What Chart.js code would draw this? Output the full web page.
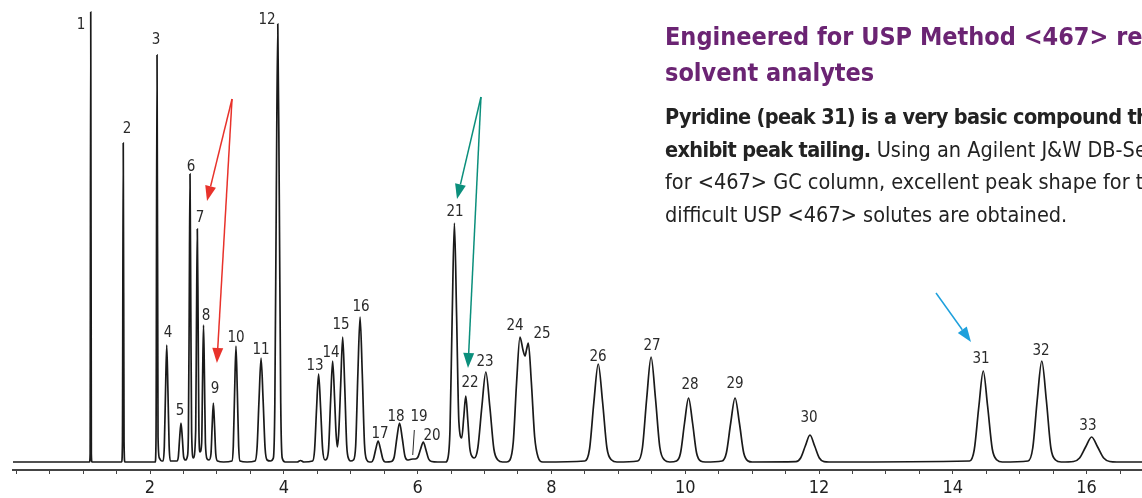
<!DOCTYPE html>
<html>
<head>
<meta charset="utf-8">
<script src="https://cdn.jsdelivr.net/npm/chart.js@4.4.0/dist/chart.umd.min.js"></script>
<style>
  html, body { margin: 0; padding: 0; background: #fff; overflow: hidden; }
  #wrap { position: relative; width: 1142px; height: 498px; overflow: hidden; }
  #note { position: absolute; left: 665px; top: 19px; white-space: nowrap;
          font-family: 'Liberation Sans Narrow', 'DejaVu Sans Condensed', sans-serif; }
  .title { color: #6b2473; font-weight: bold; font-size: 25px; line-height: 36px; }
  .body { color: #222; font-size: 21.5px; line-height: 32.5px; margin-top: 10px; }
  .body b { letter-spacing: -0.65px; }
</style>
</head>
<body>
<div id="wrap">
  <canvas id="chromChart" width="1142" height="498"></canvas>
  <div id="note">
    <div class="title">Engineered for USP Method &lt;467&gt; residual<br>solvent analytes</div>
    <div class="body"><b>Pyridine (peak 31) is a very basic compound that can</b><br><b>exhibit peak tailing.</b> Using an Agilent J&amp;W DB-Select 624UI<br>for &lt;467&gt; GC column, excellent peak shape for the most<br>difficult USP &lt;467&gt; solutes are obtained.</div>
  </div>
</div>
<script>
// retention time (min) vs detector signal
var trace = [
  [-0.06,0],[1.0,0],
  [1.096,0],[1.105,8],[1.114,450],[1.123,8],[1.132,0],[1.5,0],
  [1.576,0],[1.588,20],[1.600,319],[1.612,20],[1.624,0],[2.0,0],
  [2.078,0],[2.090,25],[2.105,407],[2.120,25],[2.140,4],[2.175,1],
  [2.196,1],[2.214,16],[2.232,71],[2.250,117],[2.268,71],[2.286,16],[2.304,1],
  [2.403,1],[2.423,5],[2.443,24],[2.463,39],[2.483,24],[2.503,5],[2.530,2],
  [2.560,6],[2.574,30],[2.586,150],[2.598,288],[2.610,150],[2.622,30],[2.647,4],
  [2.683,32],[2.695,142],[2.707,233],[2.719,142],[2.731,32],[2.747,10],
  [2.772,19],[2.786,84],[2.800,137],[2.814,84],[2.828,19],[2.855,3],[2.882,2],
  [2.911,8],[2.929,36],[2.947,59],[2.965,36],[2.983,8],[3.010,1],[3.10,0],
  [3.225,1],[3.245,16],[3.265,71],[3.285,116],[3.305,71],[3.325,16],[3.345,1],[3.45,0],
  [3.57,1],[3.60,14],[3.63,63],[3.66,104],[3.69,63],[3.72,14],[3.75,2],[3.80,1],
  [3.844,4],[3.866,59],[3.888,267],[3.910,438],[3.932,267],[3.954,59],[3.976,4],[4.02,0],
  [4.20,0],[4.25,1.5],[4.30,0],
  [4.43,1],[4.46,12],[4.49,54],[4.52,88],[4.55,54],[4.58,13],[4.616,2],
  [4.64,3],[4.67,14],[4.70,62],[4.73,101],[4.76,62],[4.78,30],[4.80,15],
  [4.82,28],[4.85,77],[4.88,125],[4.91,77],[4.94,17],[4.97,3],[5.0,1],
  [5.04,2],[5.074,16],[5.107,88],[5.14,145],[5.173,88],[5.206,18],[5.24,2],[5.28,0],
  [5.31,0],[5.34,3],[5.375,13],[5.41,21],[5.445,13],[5.48,3],[5.52,0],
  [5.61,0.5],[5.65,5],[5.69,24],[5.73,39],[5.77,24],[5.81,6],[5.85,2],
  [5.89,2.5],[5.93,3],
  [5.965,3],[6.005,5],[6.045,13],[6.085,20],[6.125,12],[6.165,3],[6.21,0.5],[6.30,0],
  [6.42,0],[6.45,3],[6.484,32],[6.517,146],[6.55,239],[6.583,146],[6.617,40],[6.66,24],
  [6.69,45],[6.72,66],[6.75,42],[6.78,14],[6.82,5],[6.848,4],
  [6.90,14],[6.96,55],[7.02,90],[7.08,55],[7.14,13],[7.20,2],[7.27,0],
  [7.33,0],[7.38,2],[7.43,20],[7.48,80],[7.53,125],[7.575,112],[7.605,106],[7.63,113],[7.655,119],[7.70,80],[7.75,25],[7.80,5],[7.87,0],
  [8.50,1],[8.57,13],[8.635,60],[8.70,98],[8.765,60],[8.83,14],[8.90,2],[8.98,0],
  [9.29,1],[9.36,14],[9.425,64],[9.49,105],[9.555,64],[9.62,15],[9.69,2],[9.77,0],
  [9.87,1],[9.93,9],[9.99,39],[10.05,64],[10.11,39],[10.17,9],[10.23,1],[10.30,0],
  [10.55,1],[10.615,9],[10.68,39],[10.745,64],[10.81,39],[10.875,9],[10.94,1],[11.0,0],
  [11.655,0.3],[11.725,4],[11.795,16],[11.865,27],[11.935,16],[12.005,4],[12.075,0.3],[12.15,0],
  [14.25,1],[14.32,12],[14.39,56],[14.455,91],[14.52,56],[14.59,13],[14.66,2],[14.74,0],
  [15.125,1],[15.195,14],[15.262,62],[15.33,101],[15.398,62],[15.466,14],[15.535,2],[15.62,0],
  [15.805,0.5],[15.895,4],[15.985,15],[16.075,25],[16.165,15],[16.255,4],[16.345,0.5],[16.45,0],
  [16.9,0]
];

// peak numbers and where their labels sit (time, signal)
var peakNumbers = ['1','2','3','4','5','6','7','8','9','10','11','12','13','14','15','16','17',
                   '18','19','20','21','22','23','24','25','26','27','28','29','30','31','32','33'];
var labelTimes = [0.969,1.656,2.090,2.269,2.448,2.613,2.747,2.837,2.972,3.286,3.659,3.749,4.466,
                  4.706,4.855,5.154,5.438,5.677,6.021,6.215,6.559,6.783,7.007,7.456,7.860,8.697,
                  9.504,10.072,10.745,11.850,14.421,15.318,16.020];
var labelSignals = [437,333,422,129,51,295,244,146,73,124,112,442,96,109,137,155,28,45,45,26,
                    250,79,100,136,128,105,116,77,78,44,103,111,36];

// arrows: [fromTime, fromSignal, toTime, toSignal, colour]
var arrows = [
  [3.226, 363, 2.852, 261, '#e8322b'],
  [3.226, 363, 3.000, 99, '#e8322b'],
  [6.947, 365, 6.589, 263, '#0b8f7c'],
  [6.947, 365, 6.753, 94, '#0b8f7c'],
  [13.749, 169, 14.272, 120, '#1ea0dc']
];
var peak19Marker = [5.951, 32, 5.927, 7];

var labelFont = '15px "Liberation Sans Narrow", "DejaVu Sans Condensed", sans-serif';

var annotate = {
  id: 'annotate',
  afterDatasetsDraw: function (chart) {
    var ctx = chart.ctx, x = chart.scales.x, y = chart.scales.y;
    ctx.save();
    ctx.font = labelFont;
    ctx.fillStyle = '#2a2a2a';
    ctx.textAlign = 'center';
    ctx.textBaseline = 'middle';
    for (var i = 0; i < peakNumbers.length; i++) {
      ctx.fillText(peakNumbers[i], x.getPixelForValue(labelTimes[i]), y.getPixelForValue(labelSignals[i]));
    }
    // little pointer for peak 19
    ctx.strokeStyle = '#2a2a2a';
    ctx.lineWidth = 1;
    ctx.beginPath();
    ctx.moveTo(x.getPixelForValue(peak19Marker[0]), y.getPixelForValue(peak19Marker[1]));
    ctx.lineTo(x.getPixelForValue(peak19Marker[2]), y.getPixelForValue(peak19Marker[3]));
    ctx.stroke();

    arrows.forEach(function (a) {
      var x0 = x.getPixelForValue(a[0]), y0 = y.getPixelForValue(a[1]);
      var x1 = x.getPixelForValue(a[2]), y1 = y.getPixelForValue(a[3]);
      var ang = Math.atan2(y1 - y0, x1 - x0);
      var len = 15, half = 5.5;
      var bx = x1 - len * Math.cos(ang), by = y1 - len * Math.sin(ang);
      ctx.strokeStyle = a[4];
      ctx.fillStyle = a[4];
      ctx.lineWidth = 1.5;
      ctx.beginPath();
      ctx.moveTo(x0, y0);
      ctx.lineTo(bx, by);
      ctx.stroke();
      ctx.beginPath();
      ctx.moveTo(x1, y1);
      ctx.lineTo(bx + half * Math.sin(ang), by - half * Math.cos(ang));
      ctx.lineTo(bx - half * Math.sin(ang), by + half * Math.cos(ang));
      ctx.closePath();
      ctx.fill();
    });
    ctx.restore();
  }
};

var ctx = document.getElementById('chromChart').getContext('2d');
var chromChart = new Chart(ctx, {
  type: 'line',
  data: {
    datasets: [{
      data: trace.map(function (p) { return { x: p[0], y: p[1] }; }),
      borderColor: '#1a1a1a',
      borderWidth: 1.7,
      pointRadius: 0,
      fill: false,
      cubicInterpolationMode: 'monotone'
    }]
  },
  options: {
    responsive: false,
    animation: false,
    devicePixelRatio: 1,
    layout: { padding: { left: 13, right: 0, top: 0, bottom: 0 } },
    plugins: { legend: { display: false }, tooltip: { enabled: false } },
    scales: {
      x: {
        type: 'linear',
        min: -0.048,
        max: 16.828,
        afterFit: function (scale) { scale.height = 28; },
        border: { display: true, color: '#444', width: 2 },
        grid: { drawOnChartArea: false, drawTicks: true, tickLength: 4, color: '#444', lineWidth: 1 },
        ticks: {
          stepSize: 0.5,
          includeBounds: false,
          autoSkip: false,
          maxRotation: 0,
          padding: 4,
          color: '#222',
          font: { family: '"Liberation Sans Narrow", "DejaVu Sans Condensed", sans-serif', size: 18 },
          callback: function (v) { return (v > 0 && v % 2 === 0) ? String(v) : ''; }
        }
      },
      y: {
        display: false,
        min: -8,
        max: 462
      }
    }
  },
  plugins: [annotate]
});
</script>
</body>
</html>
